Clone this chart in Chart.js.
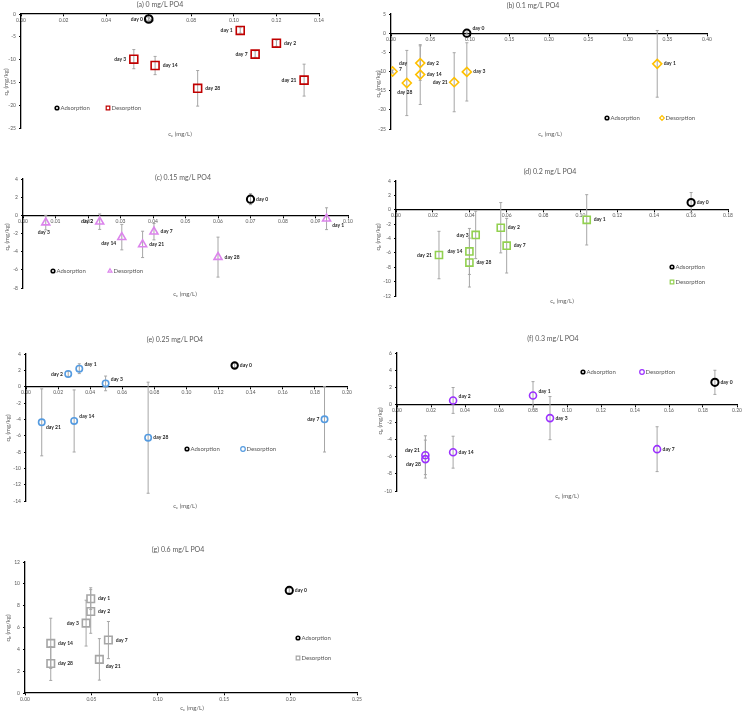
<!DOCTYPE html>
<html>
<head>
<meta charset="utf-8">
<script src="https://cdn.jsdelivr.net/npm/chart.js@4.4.0/dist/chart.umd.min.js"></script>
<style>
  body { margin: 0; background: #fff; width: 743px; height: 713px; position: relative; overflow: hidden; }
  canvas { position: absolute; }
</style>
</head>
<body>
<script>
// ---- data ----
const desDays = ["day 1", "day 2", "day 3", "day 7", "day 14", "day 21", "day 28"];
const adsDays = ["day 0"];
const seriesNames = ["Adsorption", "Desorption"];
const panelTitles = ["(a) 0 mg/L PO4", "(b) 0.1 mg/L PO4", "(c) 0.15 mg/L PO4", "(d) 0.2 mg/L PO4",
  "(e) 0.25 mg/L PO4", "(f) 0.3 mg/L PO4", "(g) 0.6 mg/L PO4"];

// (a) 0 mg/L
const adsCeA = [0.060], adsQeA = [-1.1], adsErrA = [0.3];
const desCeA = [0.103, 0.120, 0.053, 0.110, 0.063, 0.133, 0.083];
const desQeA = [-3.6, -6.4, -9.9, -8.8, -11.3, -14.5, -16.3];
const desErrA = [0.6, 0.7, 2.1, 0.7, 2.0, 3.5, 3.9];
const xTicksA = [0, 0.14, 0.02], yTicksA = [-25, 0, 5];

// (b) 0.1 mg/L
const adsCeB = [0.096], adsQeB = [0.0], adsErrB = [0.3];
const desCeB = [0.337, 0.037, 0.096, 0.002, 0.037, 0.080, 0.020];
const desQeB = [-8.0, -7.8, -10.1, -10.0, -10.8, -12.8, -13.0];
const desErrB = [8.7, 4.5, 7.6, 0.4, 7.8, 7.7, 8.5];
const xTicksB = [0, 0.40, 0.05], yTicksB = [-25, 5, 5];

// (c) 0.15 mg/L
const adsCeC = [0.070], adsQeC = [1.78], adsErrC = [0.6];
const desCeC = [0.0934, 0.0236, 0.0070, 0.0403, 0.0304, 0.0368, 0.060];
const desQeC = [-0.37, -0.7, -0.8, -1.8, -2.4, -3.2, -4.6];
const desErrC = [1.2, 0.85, 0.8, 0.9, 1.4, 1.45, 2.2];
const xTicksC = [0, 0.10, 0.01], yTicksC = [-8, 4, 2];

// (d) 0.2 mg/L
const adsCeD = [0.160], adsQeD = [1.0], adsErrD = [1.4];
const desCeD = [0.1034, 0.0568, 0.0432, 0.060, 0.0398, 0.0233, 0.0398];
const desQeD = [-1.4, -2.5, -3.5, -5.0, -5.8, -6.3, -7.35];
const desErrD = [3.5, 3.5, 3.3, 3.8, 3.2, 3.3, 3.4];
const xTicksD = [0, 0.18, 0.02], yTicksD = [-12, 4, 2];

// (e) 0.25 mg/L
const adsCeE = [0.130], adsQeE = [2.6], adsErrE = [0.3];
const desCeE = [0.0332, 0.0263, 0.0496, 0.186, 0.030, 0.0098, 0.0761];
const desQeE = [2.2, 1.55, 0.4, -4.0, -4.2, -4.37, -6.25];
const desErrE = [0.6, 0.3, 0.9, 4.0, 3.8, 4.1, 6.8];
const xTicksE = [0, 0.20, 0.02], yTicksE = [-14, 4, 2];

// (f) 0.3 mg/L
const adsCeF = [0.187], adsQeF = [2.6], adsErrF = [1.4];
const desCeF = [0.080, 0.033, 0.090, 0.153, 0.033, 0.0167, 0.0167];
const desQeF = [1.08, 0.5, -1.55, -5.15, -5.5, -5.85, -6.3];
const desErrF = [1.6, 1.5, 2.5, 2.6, 1.85, 2.25, 2.2];
const xTicksF = [0, 0.20, 0.02], yTicksF = [-10, 6, 2];

// (g) 0.6 mg/L
const adsCeG = [0.199], adsQeG = [9.4], adsErrG = [0.2];
const desCeG = [0.0495, 0.0495, 0.046, 0.0628, 0.0194, 0.056, 0.0194];
const desQeG = [8.64, 7.47, 6.4, 4.85, 4.55, 3.08, 2.7];
const desErrG = [1.0, 2.0, 2.1, 1.7, 2.3, 1.9, 1.55];
const xTicksG = [0, 0.25, 0.05], yTicksG = [0, 12, 2];

// ---- layout / style of each panel (page pixels) ----
const FONT = "Lato, 'Open Sans', sans-serif";
const TXT = "#595959";
const YW = 16;

const panels = [
  { title: panelTitles[0], ads: [adsCeA, adsQeA, adsErrA], des: [desCeA, desQeA, desErrA], xt: xTicksA, yt: yTicksA,
    color: "#c00000", shape: "rect", r: 5.6, adsR: 3.8,
    box: [0, 0, 372, 140], area: [21, 14, 319, 128], t: [160, 5], xl: [180, 134], yl: [6, 82],
    leg: [[57, 108], [108, 108]], adsSide: ["l"], desSide: ["l", "r", "l", "l", "r", "l", "r"] },
  { title: panelTitles[1], ads: [adsCeB, adsQeB, adsErrB], des: [desCeB, desQeB, desErrB], xt: xTicksB, yt: yTicksB,
    color: "#ffc000", shape: "rectRot", r: 4.5, adsR: 3.6,
    box: [372, 0, 371, 140], area: [391, 14, 707, 129], t: [533, 6], xl: [550, 134], yl: [378, 84],
    leg: [[607, 118], [662, 118]], adsSide: ["tr"], desSide: ["r", "r", "r", "tr2", "r", "l", "b"] },
  { title: panelTitles[2], ads: [adsCeC, adsQeC, adsErrC], des: [desCeC, desQeC, desErrC], xt: xTicksC, yt: yTicksC,
    color: "#dc84ec", shape: "triangle", r: 4.6, adsR: 3.6,
    box: [0, 140, 372, 160], area: [23, 179, 348, 288], t: [183, 178], xl: [185, 294], yl: [7, 237],
    leg: [[53, 271], [110, 271]], adsSide: ["r"], desSide: ["br", "l", "b", "r", "bl", "r", "r"] },
  { title: panelTitles[3], ads: [adsCeD, adsQeD, adsErrD], des: [desCeD, desQeD, desErrD], xt: xTicksD, yt: yTicksD,
    color: "#92d050", shape: "rect", r: 5.0, adsR: 3.6,
    box: [372, 140, 371, 165], area: [396, 181, 728, 296], t: [550, 172], xl: [562, 301], yl: [378, 237],
    leg: [[672, 267], [672, 282]], adsSide: ["r"], desSide: ["r", "r", "l", "r", "l", "l", "r"] },
  { title: panelTitles[4], ads: [adsCeE, adsQeE, adsErrE], des: [desCeE, desQeE, desErrE], xt: xTicksE, yt: yTicksE,
    color: "#559be0", shape: "circle", r: 3.2, adsR: 3.2,
    box: [0, 305, 372, 205], area: [26, 354, 347, 501], t: [175, 340], xl: [185, 506], yl: [8, 428],
    leg: [[187, 449], [243, 449]], adsSide: ["r"], desSide: ["tr", "l", "tr", "l", "tr", "br", "r"] },
  { title: panelTitles[5], ads: [adsCeF, adsQeF, adsErrF], des: [desCeF, desQeF, desErrF], xt: xTicksF, yt: yTicksF,
    color: "#9b30ff", shape: "circle", r: 3.5, adsR: 3.6,
    box: [372, 305, 371, 200], area: [397, 353, 737, 491], t: [553, 339], xl: [567, 496], yl: [380, 421],
    leg: [[583, 372], [642, 372]], adsSide: ["r"], desSide: ["tr", "tr", "r", "r", "r", "tl", "bl"] },
  { title: panelTitles[6], ads: [adsCeG, adsQeG, adsErrG], des: [desCeG, desQeG, desErrG], xt: xTicksG, yt: yTicksG,
    color: "#a6a6a6", shape: "rect", r: 5.3, adsR: 3.6,
    box: [0, 512, 372, 201], area: [25, 562, 357, 693], t: [178, 550], xl: [192, 708], yl: [8, 628],
    leg: [[298, 638], [298, 658]], adsSide: ["r"], desSide: ["r", "r", "l", "r", "r", "br", "r"] }
];

function drawShape(ctx, s, x, y, r) {
  ctx.beginPath();
  if (s === "circle") ctx.arc(x, y, r, 0, Math.PI * 2);
  else if (s === "rect") ctx.rect(x - r, y - r, 2 * r, 2 * r);
  else if (s === "rectRot") { ctx.moveTo(x - r, y); ctx.lineTo(x, y - r); ctx.lineTo(x + r, y); ctx.lineTo(x, y + r); ctx.closePath(); }
  else if (s === "triangle") { ctx.moveTo(x, y - r); ctx.lineTo(x + r * 0.87, y + r * 0.5); ctx.lineTo(x - r * 0.87, y + r * 0.5); ctx.closePath(); }
  ctx.stroke();
}

// text like "c" + subscript "e" + " (mg/L)", centred on x,y
function subText(ctx, main, sub, rest, x, y) {
  ctx.font = `6px ${FONT}`;
  const w1 = ctx.measureText(main).width, w3 = ctx.measureText(rest).width;
  ctx.font = `4px ${FONT}`;
  const w2 = ctx.measureText(sub).width;
  let cx = x - (w1 + w2 + w3) / 2;
  ctx.textAlign = "left";
  ctx.textBaseline = "middle";
  ctx.font = `6px ${FONT}`; ctx.fillText(main, cx, y); cx += w1;
  ctx.font = `4px ${FONT}`; ctx.fillText(sub, cx, y + 1.5); cx += w2;
  ctx.font = `6px ${FONT}`; ctx.fillText(rest, cx, y);
}

function makeDeco(p) {
  const bx = p.box[0], by = p.box[1];
  return {
    id: "deco",
    beforeDatasetsDraw(chart) {
      const { ctx, scales: { x, y } } = chart;
      ctx.save();
      ctx.strokeStyle = "#a6a6a6";
      ctx.lineWidth = 1;
      chart.data.datasets.forEach(ds => {
        ds.data.forEach((pt, i) => {
          const e = ds.errs[i];
          const px = x.getPixelForValue(pt.x);
          const y1 = y.getPixelForValue(pt.y + e), y2 = y.getPixelForValue(pt.y - e);
          ctx.beginPath();
          ctx.moveTo(px, y1); ctx.lineTo(px, y2);
          ctx.moveTo(px - 1.5, y1); ctx.lineTo(px + 1.5, y1);
          ctx.moveTo(px - 1.5, y2); ctx.lineTo(px + 1.5, y2);
          ctx.stroke();
        });
      });
      ctx.restore();
    },
    afterDatasetsDraw(chart) {
      const { ctx, scales: { x, y } } = chart;
      ctx.save();
      ctx.fillStyle = "#262626";
      ctx.font = `bold 5px ${FONT}`;
      chart.data.datasets.forEach(ds => {
        const off = ds.pointRadius + 2;
        ds.data.forEach((pt, i) => {
          const px = x.getPixelForValue(pt.x), py = y.getPixelForValue(pt.y);
          const txt = ds.days[i], side = ds.sides[i];
          ctx.textBaseline = "middle";
          if (side === "r") { ctx.textAlign = "left"; ctx.fillText(txt, px + off, py); }
          else if (side === "l") { ctx.textAlign = "right"; ctx.fillText(txt, px - off, py); }
          else if (side === "b") { ctx.textAlign = "center"; ctx.fillText(txt, px - 2, py + off + 3); }
          else if (side === "tr") { ctx.textAlign = "left"; ctx.fillText(txt, px + off, py - off + 1); }
          else if (side === "br") { ctx.textAlign = "left"; ctx.fillText(txt, px + off - 1, py + off); }
          else if (side === "tl") { ctx.textAlign = "right"; ctx.fillText(txt, px - off, py - off + 1); }
          else if (side === "bl") { ctx.textAlign = "right"; ctx.fillText(txt, px - off + 1, py + off); }
          else if (side === "tr2") {
            const parts = txt.split(" ");
            ctx.textAlign = "left";
            ctx.fillText(parts[0], px + off, py - off - 2);
            ctx.fillText(parts[1], px + off, py - off + 4);
          }
        });
      });
      ctx.restore();
    },
    afterDraw(chart) {
      const ctx = chart.ctx;
      ctx.save();
      // title
      ctx.fillStyle = TXT;
      ctx.font = `7px ${FONT}`;
      ctx.textAlign = "center";
      ctx.textBaseline = "middle";
      ctx.fillText(p.title, p.t[0] - bx, p.t[1] - by);
      // axis titles
      subText(ctx, "c", "e", " (mg/L)", p.xl[0] - bx, p.xl[1] - by);
      ctx.save();
      ctx.translate(p.yl[0] - bx, p.yl[1] - by);
      ctx.rotate(-Math.PI / 2);
      subText(ctx, "q", "e", " (mg/kg)", 0, 0);
      ctx.restore();
      // legend
      chart.data.datasets.forEach((ds, k) => {
        const lx = p.leg[k][0] - bx, ly = p.leg[k][1] - by;
        ctx.strokeStyle = ds.borderColor;
        ctx.lineWidth = k === 0 ? 1.6 : 1.2;
        drawShape(ctx, ds.pointStyle, lx, ly, k === 0 ? 1.8 : (ds.pointStyle === "rect" ? 1.8 : 2.3));
        ctx.fillStyle = TXT;
        ctx.font = `6px ${FONT}`;
        ctx.textAlign = "left";
        ctx.textBaseline = "middle";
        ctx.fillText(ds.label, lx + 3.5, ly);
      });
      ctx.restore();
    }
  };
}

panels.forEach(p => {
  const [bx, by, bw, bh] = p.box;
  const [l, t, r, b] = p.area;
  const cv = document.createElement("canvas");
  cv.width = bw; cv.height = bh;
  cv.style.left = bx + "px"; cv.style.top = by + "px";
  cv.style.width = bw + "px"; cv.style.height = bh + "px";
  document.body.appendChild(cv);

  const axisCommon = {
    type: "linear",
    grid: { display: true, drawOnChartArea: false, drawTicks: true, tickLength: 2, color: "#000" },
    border: { display: true, color: "#000", width: 1.3 }
  };

  new Chart(cv, {
    type: "scatter",
    data: {
      datasets: [
        {
          label: seriesNames[0],
          data: p.ads[0].map((v, i) => ({ x: v, y: p.ads[1][i] })),
          errs: p.ads[2], days: adsDays, sides: p.adsSide,
          pointStyle: "circle", pointRadius: p.adsR, pointBorderWidth: 2,
          borderColor: "#000", backgroundColor: "rgba(0,0,0,0)",
          pointBorderColor: "#000", pointBackgroundColor: "rgba(0,0,0,0)"
        },
        {
          label: seriesNames[1],
          data: p.des[0].map((v, i) => ({ x: v, y: p.des[1][i] })),
          errs: p.des[2], days: desDays, sides: p.desSide,
          pointStyle: p.shape, pointRadius: p.r, pointBorderWidth: 1.6,
          borderColor: p.color, backgroundColor: "rgba(0,0,0,0)",
          pointBorderColor: p.color, pointBackgroundColor: "rgba(0,0,0,0)"
        }
      ]
    },
    options: {
      responsive: false,
      animation: false,
      events: [],
      layout: { padding: { left: l - bx - YW, top: t - by, right: bx + bw - r, bottom: by + bh - b } },
      plugins: { legend: { display: false }, tooltip: { enabled: false } },
      scales: {
        x: {
          ...axisCommon,
          position: { y: 0 },
          min: p.xt[0], max: p.xt[1],
          ticks: { stepSize: p.xt[2], autoSkip: false, maxRotation: 0, padding: 1, color: TXT,
            font: { size: 5, family: FONT }, callback: v => v.toFixed(2) },
          afterFit: s => { s.paddingLeft = 0; s.paddingRight = 0; }
        },
        y: {
          ...axisCommon,
          position: "left",
          min: p.yt[0], max: p.yt[1],
          ticks: { stepSize: p.yt[2], padding: 3, color: TXT, font: { size: 5, family: FONT } },
          afterFit: s => { s.width = YW; s.paddingTop = 0; s.paddingBottom = 0; }
        }
      }
    },
    plugins: [makeDeco(p)]
  });
});
</script>
</body>
</html>
